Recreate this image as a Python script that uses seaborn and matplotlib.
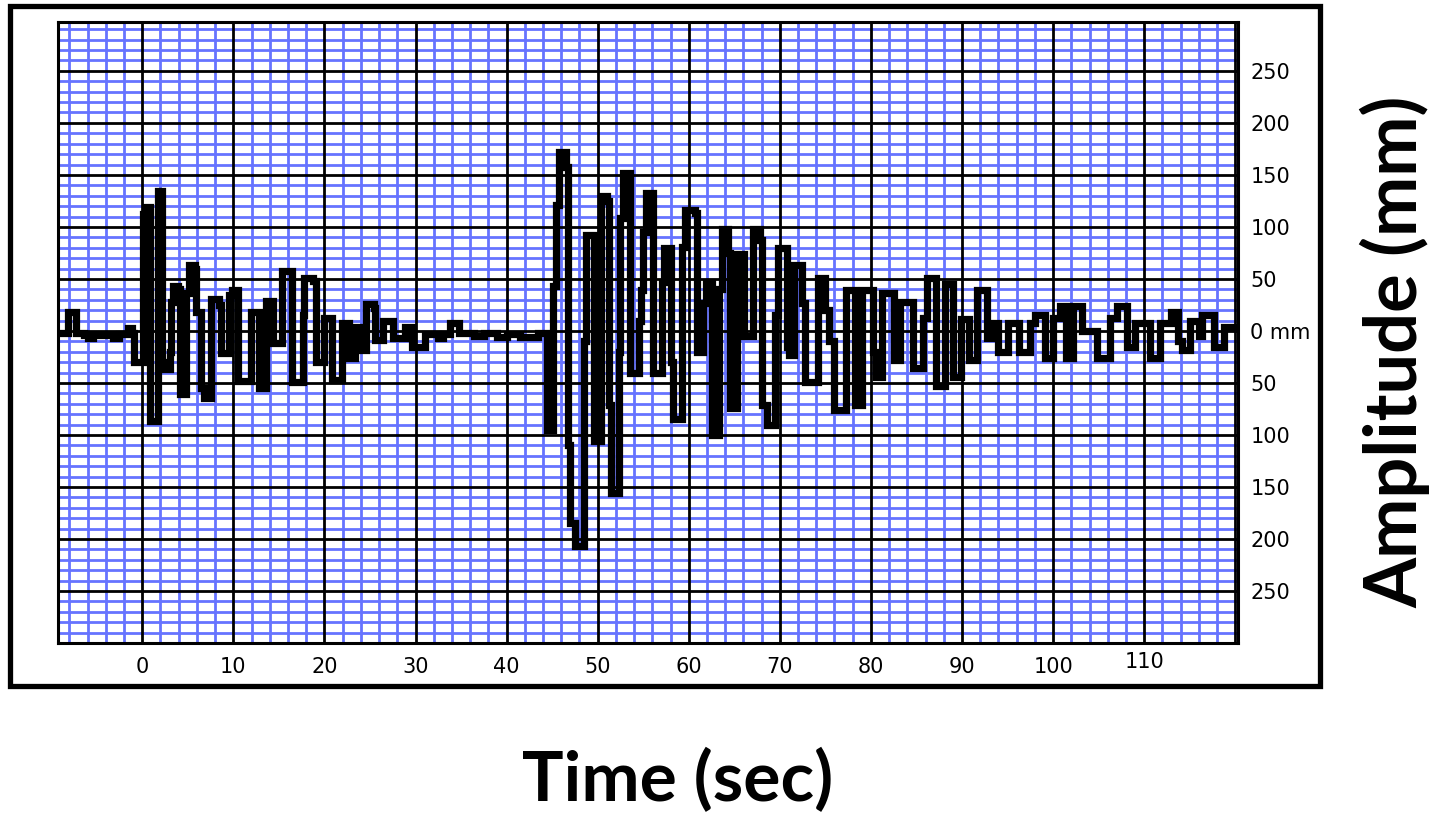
import matplotlib
matplotlib.use("Agg")
import matplotlib.pyplot as plt
import seaborn as sns
import pandas as pd
from matplotlib.ticker import FixedLocator, FixedFormatter, MultipleLocator
from matplotlib.patches import Rectangle
from matplotlib.transforms import ScaledTranslation

# ---------------- data ----------------
time_sec = [
    -9.2, -8.4, -8.2, -7.5, -7.3, -6.4, -6.0, -5.4, -3.6, -3.2, -2.6, -1.8, -1.6, -1.1,
    -0.9, -0.1, 0.1, 0.4, 0.8, 0.9, 1.6, 1.7, 2.1, 2.2, 2.5, 3.0, 3.1, 3.2, 3.4, 3.9,
    4.1, 4.6, 4.8, 5.1, 5.8, 5.9, 6.3, 6.5, 6.8, 7.3, 7.5, 8.0, 8.4, 8.6, 9.2, 9.5,
    9.9, 10.4, 10.5, 11.6, 11.9, 12.5, 12.8, 13.4, 13.6, 14.2, 14.4, 15.1, 15.3, 16.2,
    16.4, 17.4, 17.6, 17.8, 18.8, 19.1, 19.8, 20.0, 20.6, 20.8, 21.8, 21.9, 22.5, 22.7,
    23.3, 23.4, 23.9, 24.0, 24.5, 24.6, 25.4, 25.6, 26.2, 26.4, 27.2, 27.5, 28.6, 28.8,
    29.4, 29.6, 30.8, 31.0, 32.2, 32.5, 33.0, 33.8, 34.6, 34.8, 36.4, 37.5, 39.0, 40.0,
    41.5, 43.5, 44.2, 44.4, 45.0, 45.1, 45.4, 45.8, 46.4, 46.5, 46.7, 47.0, 47.5, 48.4,
    48.5, 48.7, 49.4, 49.6, 50.3, 50.4, 51.0, 51.2, 51.5, 52.2, 52.3, 52.5, 52.8, 53.3,
    53.5, 54.3, 54.5, 54.8, 55.0, 55.3, 55.9, 56.1, 57.0, 57.1, 57.3, 57.9, 58.0, 58.3,
    59.1, 59.3, 59.6, 60.7, 60.9, 61.5, 61.6, 61.9, 62.4, 62.6, 63.1, 63.3, 63.6, 64.1,
    64.3, 64.5, 65.2, 65.3, 65.9, 66.1, 66.9, 67.0, 67.6, 67.8, 68.0, 68.6, 69.4, 69.5,
    69.8, 70.6, 70.8, 71.0, 71.4, 71.6, 72.2, 72.4, 72.8, 74.0, 74.2, 74.8, 75.0, 75.4,
    75.9, 77.0, 77.3, 78.0, 78.2, 78.8, 79.0, 80.0, 80.2, 80.6, 81.0, 81.2, 82.3, 82.5,
    83.0, 83.2, 84.4, 84.6, 85.5, 85.7, 86.2, 86.9, 87.1, 88.0, 88.1, 88.8, 89.0, 89.7,
    89.9, 90.6, 90.8, 91.5, 91.7, 92.5, 92.7, 93.2, 93.8, 94.0, 94.8, 95.0, 96.0, 96.3,
    97.2, 97.5, 98.0, 98.9, 99.1, 99.8, 100.0, 100.6, 100.8, 101.2, 101.4, 102.0, 102.2,
    103.0, 103.2, 104.6, 104.8, 106.1, 106.3, 106.9, 107.0, 107.9, 108.1, 108.8, 109.0,
    110.4, 110.6, 111.5, 111.7, 112.7, 112.9, 113.5, 113.7, 114.2, 114.9, 115.0, 115.8,
    116.0, 116.4, 117.5, 117.7, 118.6, 118.8, 120.3,
]
amplitude_mm = [
    -2, -2, 18, 18, -2, -4, -7, -4, -4, -7, -3, -3, 3, -2,
    -30, -30, 112, 119, 119, -87, -87, 135, 135, -30, -37, -37, -20, 28, 43, 40,
    -61, -61, 36, 63, 60, 18, 18, -55, -64, -64, 31, 31, 25, -21, -21, 35,
    39, 39, -48, -48, 18, 18, -55, -55, 29, 29, -12, -12, 58, 58,
    -49, -49, 15, 51, 48, -30, -30, 12, 12, -47, -47, 8, 8, -26,
    -26, 4, 4, -18, -18, 26, 22, -9, -9, 10, 10, -7, -7, 4,
    4, -15, -15, -3, -3, -7, -3, 8, 8, -2, -5, -2, -6, -3,
    -6, -2, -2, -95, -95, 43, 121, 172, 172, 158, -110, -185, -207, -207,
    -10, 92, 92, -106, -106, 130, 125, -71, -156, -156, -20, 109, 152, 152,
    -40, -40, 10, 39, 95, 133, 133, -40, -40, 47, 80, 80, -30, -85,
    -85, 81, 116, 113, -20, -20, 27, 47, 47, -100, -100, 40, 98, 98,
    75, -74, -74, 74, 74, -5, -5, 98, 98, 87, -71, -90, -90, 15,
    80, 80, -15, -23, -23, 63, 63, 27, -49, -49, 51, 51, 20, -10,
    -76, -76, 39, 39, -71, -71, 39, 39, -20, -44, -44, 36, 36, -28,
    -28, 28, 28, -36, -36, 12, 51, 51, -53, -53, 45, 45, -44, -44,
    11, 11, -28, -28, 39, 39, -7, 8, 8, -20, -20, 8, 8, -20,
    -20, 8, 15, 15, -26, -26, 12, 12, 24, 24, -26, -26, 24,
    24, 0, 0, -26, -26, 12, 12, 24, 24, -15, -15, 8,
    8, -26, -26, 8, 8, 18, 18, -10, -18, -18, 10, 10,
    -5, 15, 15, -15, -15, 4, 4,
]

x_major_ticks = list(range(-10, 121, 10))
x_tick_labels = [""] + [str(v) for v in range(0, 111, 10)] + [""]
y_major_ticks = list(range(-300, 301, 50))
y_tick_labels = ["", "250", "200", "150", "100", "50", "0 mm",
                 "50", "100", "150", "200", "250", ""]
x_label = "Time (sec)"
y_label = "Amplitude (mm)"

# ---------------- styling ----------------
sns.set_theme(style="white")
plt.rcParams["font.family"] = ["DejaVu Sans"]

W, H = 1435, 814
fig = plt.figure(figsize=(W / 100, H / 100), dpi=100)
fig.patch.set_facecolor("white")

# outer frame
fig.add_artist(Rectangle((10 / W, 1 - 686 / H), 1310 / W, 680 / H,
                         transform=fig.transFigure, fill=False,
                         edgecolor="black", linewidth=3.8))

ax = fig.add_axes([58 / W, 1 - 643 / H, (1238 - 58) / W, (643 - 22) / H])
ax.set_facecolor("white")

df = pd.DataFrame({"time": time_sec, "amp": amplitude_mm})
sns.lineplot(data=df, x="time", y="amp", ax=ax, sort=False, estimator=None,
             color="black", linewidth=5.2, zorder=5, drawstyle="steps-post",
             solid_joinstyle="miter", solid_capstyle="butt")

ax.set_xlim(-9.25, 120.3)
ax.set_ylim(-300, 297)

ax.xaxis.set_major_locator(FixedLocator(x_major_ticks))
ax.xaxis.set_major_formatter(FixedFormatter(x_tick_labels))
ax.xaxis.set_minor_locator(MultipleLocator(2))
ax.yaxis.set_major_locator(FixedLocator(y_major_ticks))
ax.yaxis.set_major_formatter(FixedFormatter(y_tick_labels))
ax.yaxis.set_minor_locator(MultipleLocator(10))

ax.set_axisbelow(True)
ax.grid(which="minor", color="#6673ff", linewidth=2.0)
ax.grid(which="major", visible=False)
for xv in x_major_ticks:
    ax.axvline(xv, color="black", linewidth=2.0, zorder=1)
for yv in y_major_ticks:
    ax.axhline(yv, color="black", linewidth=2.0, zorder=1)

for sp in ax.spines.values():
    sp.set_color("black")
    sp.set_linewidth(2.2)
    sp.set_zorder(6)

ax.yaxis.tick_right()
ax.tick_params(axis="both", which="both", length=0)
ax.tick_params(axis="x", labelsize=15, pad=10, colors="black")
ax.tick_params(axis="y", labelsize=15, pad=9, colors="black", labelleft=False, labelright=True)

for lab in ax.get_xticklabels():
    if lab.get_text() == "110":
        lab.set_transform(lab.get_transform() + ScaledTranslation(0, 5 / 100, fig.dpi_scale_trans))

ax.set_xlabel(x_label, family=["Lato", "DejaVu Sans"], weight="bold", size=50, color="black")
ax.xaxis.set_label_coords((678 - 58) / 1180, (643 - 780) / 621)
ax.xaxis.label.set_va("center")

ax.yaxis.set_label_position("right")
ax.set_ylabel(y_label, rotation=90, family=["Lato", "DejaVu Sans"], weight="bold",
              size=52, color="black")
ax.yaxis.set_label_coords((1395 - 58) / 1180, (643 - 352) / 621)
ax.yaxis.label.set_va("center")
ax.yaxis.label.set_ha("center")

fig.savefig("out.png", dpi=100, facecolor="white")
